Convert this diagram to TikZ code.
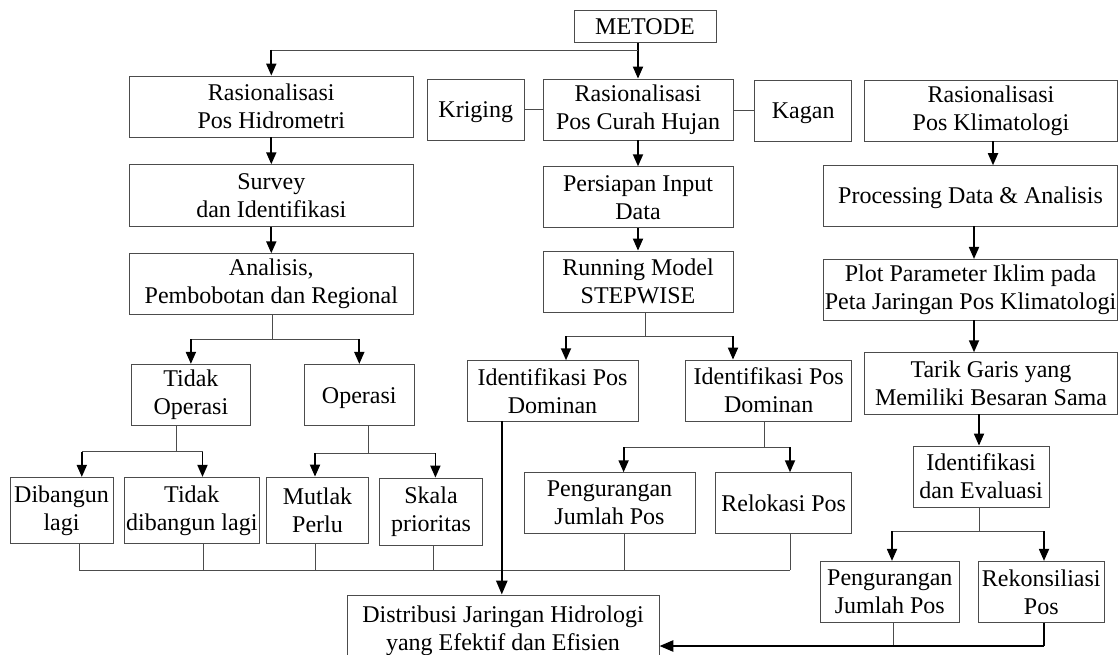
\documentclass[tikz,border=0pt]{standalone}
\usepackage{fontspec}
\setmainfont{Liberation Serif}
\usetikzlibrary{arrows.meta}
\begin{document}
\begin{tikzpicture}[x=1pt,y=-1pt,
  box/.style={draw=black!70, line width=0.8pt, align=center, inner sep=0pt, font=\fontsize{24}{28}\selectfont},
  one/.style={text height=16pt, text depth=0pt},
  ln/.style={draw=black!70, line width=0.8pt},
  arr/.style={draw=black, line width=1.8pt, -{Triangle[length=12pt,width=10pt]}},
  bigarr/.style={draw=black, line width=2.6pt, -{Triangle[length=14pt,width=11pt]}},
  bigln/.style={draw=black, line width=2.6pt}]
\useasboundingbox (0,0) rectangle (1119,655);

% nodes
\node[box, one, minimum width=142pt, minimum height=32pt] (metode) at (645,26.5) {METODE};
\node[box, minimum width=283.4pt, minimum height=61pt] (rhid) at (271.3,106.5) {Rasionalisasi\\Pos Hidrometri};
\node[box, one, minimum width=96.5pt, minimum height=61pt] (krig) at (475.8,109.5) {Kriging};
\node[box, minimum width=190pt, minimum height=61pt] (rch) at (638,109.5) {Rasionalisasi\\Pos Curah Hujan};
\node[box, one, minimum width=97.2pt, minimum height=61pt] (kagan) at (803.2,110.8) {Kagan};
\node[box, minimum width=253pt, minimum height=61pt] (rklim) at (991,110.5) {Rasionalisasi\\Pos Klimatologi};
\node[box, minimum width=283.4pt, minimum height=61.6pt] (survey) at (271.3,195.5) {Survey\\dan Identifikasi};
\node[box, minimum width=283.4pt, minimum height=61pt] (analisis) at (271.3,284.2) {Analisis,\\Pembobotan dan Regional};
\node[box, minimum width=190pt, minimum height=61pt] (persiapan) at (638,197.2) {Persiapan Input\\Data};
\node[box, minimum width=190pt, minimum height=61pt] (running) at (638,281.5) {Running Model\\STEPWISE};
\node[box, one, minimum width=293.9pt, minimum height=60.3pt] (processing) at (970.5,195.8) {Processing Data \& Analisis};
\node[box, minimum width=293.9pt, minimum height=60.7pt] (plot) at (970.5,289.7) {Plot Parameter Iklim pada\\Peta Jaringan Pos Klimatologi};
\node[box, minimum width=119pt, minimum height=61.4pt] (tidakop) at (190.9,395) {Tidak\\Operasi};
\node[box, one, minimum width=110.6pt, minimum height=61.4pt] (operasi) at (359.3,395) {Operasi};
\node[box, minimum width=171pt, minimum height=60.3pt] (ipd1) at (552.5,390.8) {Identifikasi Pos\\Dominan};
\node[box, minimum width=166pt, minimum height=61pt] (ipd2) at (768.7,390.5) {Identifikasi Pos\\Dominan};
\node[box, minimum width=253pt, minimum height=61.3pt] (tarik) at (991,383.3) {Tarik Garis yang\\Memiliki Besaran Sama};
\node[box, minimum width=136.4pt, minimum height=61pt] (identeval) at (981.1,476.5) {Identifikasi\\dan Evaluasi};
\node[box, minimum width=102.9pt, minimum height=66pt] (dibangun) at (61.5,510.3) {Dibangun\\lagi};
\node[box, minimum width=135.6pt, minimum height=66pt] (tidakdib) at (191.8,510.3) {Tidak\\dibangun lagi};
\node[box, minimum width=102.2pt, minimum height=66pt] (mutlak) at (317.5,510) {Mutlak\\Perlu};
\node[box, minimum width=102.9pt, minimum height=67pt] (skala) at (431,511.5) {Skala\\prioritas};
\node[box, minimum width=171pt, minimum height=60.6pt] (peng1) at (609.5,503) {Pengurangan\\Jumlah Pos};
\node[box, one, minimum width=136pt, minimum height=60.6pt] (reloc) at (783.7,503) {Relokasi Pos};
\node[box, minimum width=139.6pt, minimum height=61pt] (peng2) at (889.8,591.8) {Pengurangan\\Jumlah Pos};
\node[box, minimum width=125.4pt, minimum height=61pt] (rekon) at (1041.3,591.8) {Rekonsiliasi\\Pos};
\node[box, minimum width=312pt, minimum height=72pt] (distrib) at (503,631) {Distribusi Jaringan Hidrologi\\yang Efektif dan Efisien};

% top connectors
\coordinate (j0) at (638,50);
\draw[arr] (metode.south -| rch.north) -- (rch.north);
\draw[ln] (j0) -- (j0 -| rhid.north);
\draw[arr] (j0 -| rhid.north) -- (rhid.north);
\draw[ln] (krig.east) -- (krig.east -| rch.west);
\draw[ln] (kagan.west -| rch.east) -- (kagan.west);

% left column
\draw[arr] (rhid.south) -- (survey.north);
\draw[arr] (survey.south) -- (analisis.north);
\coordinate (j1) at (272.5,339);
\draw[ln] (analisis.south -| j1) -- (j1);
\draw[ln] (j1 -| tidakop.north) -- (j1 -| operasi.north);
\draw[arr] (j1 -| tidakop.north) -- (tidakop.north);
\draw[arr] (j1 -| operasi.north) -- (operasi.north);

\coordinate (j2) at (176,451.7);
\coordinate (j2a) at (81.8,451.7);
\coordinate (j2b) at (202.5,451.7);
\draw[ln] (tidakop.south -| j2) -- (j2);
\draw[ln] (j2a) -- (j2b);
\draw[arr] (j2a) -- (j2a |- dibangun.north);
\draw[arr] (j2b) -- (j2b |- tidakdib.north);

\coordinate (j3) at (368.6,453.3);
\coordinate (j3a) at (315,453.3);
\coordinate (j3b) at (435.4,453.3);
\draw[ln] (operasi.south -| j3) -- (j3);
\draw[ln] (j3a) -- (j3b);
\draw[arr] (j3a) -- (j3a |- mutlak.north);
\draw[arr] (j3b) -- (j3b |- skala.north);

% bottom collector
\coordinate (b1) at (79.3,570);
\coordinate (b2) at (202.9,570);
\coordinate (b3) at (315,570);
\coordinate (b4) at (433.6,570);
\coordinate (b5) at (624,570);
\coordinate (b6) at (790,570);
\draw[ln] (b1 |- dibangun.south) -- (b1);
\draw[ln] (b2 |- tidakdib.south) -- (b2);
\draw[ln] (b3 |- mutlak.south) -- (b3);
\draw[ln] (b4 |- skala.south) -- (b4);
\draw[ln] (b5 |- peng1.south) -- (b5);
\draw[ln] (b6 |- reloc.south) -- (b6);
\draw[ln] (b1) -- (b6);

% middle column
\draw[arr] (rch.south) -- (persiapan.north);
\draw[arr] (persiapan.south) -- (running.north);
\coordinate (j4) at (645.7,336);
\coordinate (j4a) at (566,336);
\coordinate (j4b) at (733,336);
\draw[ln] (running.south -| j4) -- (j4);
\draw[ln] (j4a) -- (j4b);
\draw[arr] (j4a) -- (j4a |- ipd1.north);
\draw[arr] (j4b) -- (j4b |- ipd2.north);

\coordinate (j5) at (764.6,447);
\coordinate (j5a) at (623.6,447);
\coordinate (j5b) at (790,447);
\draw[ln] (ipd2.south -| j5) -- (j5);
\draw[ln] (j5a) -- (j5b);
\draw[arr] (j5a) -- (j5a |- peng1.north);
\draw[arr] (j5b) -- (j5b |- reloc.north);

\coordinate (d1) at (501.8,0);
\draw[bigarr] (ipd1.south -| d1) -- (distrib.north -| d1);

% right column
\coordinate (k1) at (993,0);
\coordinate (k2) at (974,0);
\coordinate (k3) at (979,0);
\draw[arr] (rklim.south -| k1) -- (processing.north -| k1);
\draw[arr] (processing.south -| k2) -- (plot.north -| k2);
\draw[arr] (plot.south -| k2) -- (tarik.north -| k2);
\draw[arr] (tarik.south -| k3) -- (identeval.north -| k3);
\coordinate (j6) at (979,531.3);
\coordinate (j6a) at (892,531.3);
\coordinate (j6b) at (1044,531.3);
\draw[ln] (identeval.south -| j6) -- (j6);
\draw[ln] (j6a) -- (j6b);
\draw[arr] (j6a) -- (j6a |- peng2.north);
\draw[arr] (j6b) -- (j6b |- rekon.north);

\coordinate (e1) at (893,646);
\coordinate (e2) at (1044,646);
\draw[ln] (peng2.south -| e1) -- (e1);
\draw[bigln] (rekon.south -| e2) -- (e2);
\draw[bigarr] (e2) -- (e2 -| distrib.east);
\end{tikzpicture}
\end{document}
